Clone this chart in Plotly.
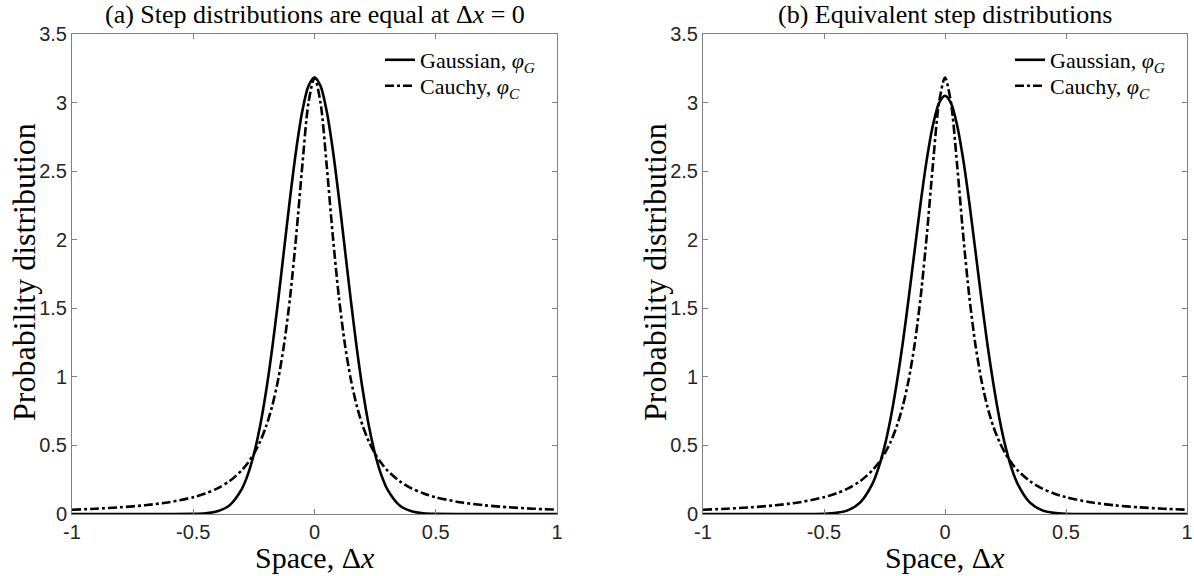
import plotly.graph_objects as go

# ---- data ----
x_vals = [-1.0, -0.9, -0.8, -0.7, -0.6, -0.5, -0.45, -0.4, -0.35,
          -0.3, -0.275, -0.25, -0.225, -0.2, -0.175, -0.15, -0.125, -0.1, -0.075, -0.05, -0.025,
          0.0,
          0.025, 0.05, 0.075, 0.1, 0.125, 0.15, 0.175, 0.2, 0.225, 0.25, 0.275, 0.3,
          0.35, 0.4, 0.45, 0.5, 0.6, 0.7, 0.8, 0.9, 1.0]

cauchy = [0.0315, 0.0388, 0.0490, 0.0637, 0.0860, 0.1224, 0.1498, 0.1872, 0.2402,
          0.3183, 0.3717, 0.4390, 0.5250, 0.6366, 0.7835, 0.9794, 1.2422, 1.5915, 2.0372, 2.5465, 2.9959,
          3.1831,
          2.9959, 2.5465, 2.0372, 1.5915, 1.2422, 0.9794, 0.7835, 0.6366, 0.5250, 0.4390, 0.3717, 0.3183,
          0.2402, 0.1872, 0.1498, 0.1224, 0.0860, 0.0637, 0.0490, 0.0388, 0.0315]

gauss_a = [0.0, 0.0, 0.0, 0.0, 0.00003, 0.0011, 0.0051, 0.0196, 0.0645,
           0.1814, 0.2867, 0.4354, 0.6354, 0.8911, 1.2009, 1.5552, 1.9358, 2.3153, 2.6613, 2.9396, 3.1204,
           3.1831,
           3.1204, 2.9396, 2.6613, 2.3153, 1.9358, 1.5552, 1.2009, 0.8911, 0.6354, 0.4354, 0.2867, 0.1814,
           0.0645, 0.0196, 0.0051, 0.0011, 0.00003, 0.0, 0.0, 0.0, 0.0]

gauss_b = [0.0, 0.0, 0.0, 0.0, 0.0001, 0.0020, 0.0082, 0.0284, 0.0850,
           0.2198, 0.3345, 0.4910, 0.6946, 0.9475, 1.2407, 1.5751, 1.9276, 2.2771, 2.5877, 2.8351, 2.9948,
           3.0500,
           2.9948, 2.8351, 2.5877, 2.2771, 1.9276, 1.5751, 1.2407, 0.9475, 0.6946, 0.4910, 0.3345, 0.2198,
           0.0850, 0.0284, 0.0082, 0.0020, 0.0001, 0.0, 0.0, 0.0, 0.0]

x_ticks = [-1, -0.5, 0, 0.5, 1]
x_tick_labels = ["-1", "-0.5", "0", "0.5", "1"]
y_ticks = [0, 0.5, 1, 1.5, 2, 2.5, 3, 3.5]
y_tick_labels = ["0", "0.5", "1", "1.5", "2", "2.5", "3", "3.5"]

titles = ["(a) Step distributions are equal at Δ<i>x</i> = 0",
          "(b) Equivalent step distributions"]
x_label = "Space, Δ<i>x</i>"
y_label = "Probability distribution"
name_g = "Gaussian, <i>φ<sub>G</sub></i>"
name_c = "Cauchy, <i>φ<sub>C</sub></i>"

# ---- figure ----
W, H = 1194, 576
SERIF = "Liberation Serif"
SANS = "Liberation Sans"
AX_COL = "#808080"
TXT_COL = "#262626"

# pixel geometry
ax_px = [(72, 557), (703, 1187)]
y_top, y_bot = 34, 514
row_g, row_c = 60, 86


def fx(px):
    return px / W


def fy(py):
    return 1 - py / H


fig = go.Figure()

panels = [
    dict(gauss=gauss_a, xa="x", ya="y", lg="legend", lc="legend2"),
    dict(gauss=gauss_b, xa="x2", ya="y2", lg="legend3", lc="legend4"),
]
for p in panels:
    fig.add_trace(go.Scatter(x=x_vals, y=p["gauss"], mode="lines", name=name_g,
                             line=dict(color="black", width=2.6, shape="spline", smoothing=0.8),
                             xaxis=p["xa"], yaxis=p["ya"], legend=p["lg"]))
    fig.add_trace(go.Scatter(x=x_vals, y=cauchy, mode="lines", name=name_c,
                             line=dict(color="black", width=2.6, dash="dashdot", shape="spline", smoothing=0.8),
                             xaxis=p["xa"], yaxis=p["ya"], legend=p["lc"]))

common_x = dict(range=[-1, 1], tickvals=x_ticks, ticktext=x_tick_labels,
                ticks="inside", ticklen=5, tickcolor=AX_COL, showline=True, linecolor=AX_COL,
                linewidth=1, mirror="ticks", showgrid=False, zeroline=False,
                ticklabeloverflow="allow",
                tickfont=dict(family=SANS, size=20, color=TXT_COL), automargin=False)
common_y = dict(range=[0, 3.5], tickvals=y_ticks, ticktext=y_tick_labels,
                ticks="inside", ticklen=5, tickcolor=AX_COL, showline=True, linecolor=AX_COL,
                linewidth=1, mirror="ticks", showgrid=False, zeroline=False,
                ticklabeloverflow="allow",
                tickfont=dict(family=SANS, size=20, color=TXT_COL), automargin=False)

legend_common = dict(xanchor="left", yanchor="middle", bgcolor="rgba(0,0,0,0)", borderwidth=0,
                     tracegroupgap=0, itemwidth=30,
                     font=dict(family=SERIF, size=22, color="black"))

lx = [ax_px[0][1] - 177, ax_px[1][1] - 177]

fig.update_layout(
    width=W, height=H,
    margin=dict(l=0, r=0, t=0, b=0),
    paper_bgcolor="white", plot_bgcolor="white",
    xaxis=dict(domain=[fx(ax_px[0][0]), fx(ax_px[0][1])], anchor="y", **common_x),
    yaxis=dict(domain=[fy(y_bot), fy(y_top)], anchor="x", **common_y),
    xaxis2=dict(domain=[fx(ax_px[1][0]), fx(ax_px[1][1])], anchor="y2", **common_x),
    yaxis2=dict(domain=[fy(y_bot), fy(y_top)], anchor="x2", **common_y),
    legend=dict(x=fx(lx[0]), y=fy(row_g), **legend_common),
    legend2=dict(x=fx(lx[0]), y=fy(row_c), **legend_common),
    legend3=dict(x=fx(lx[1]), y=fy(row_g), **legend_common),
    legend4=dict(x=fx(lx[1]), y=fy(row_c), **legend_common),
    showlegend=True,
)

annotations = []
for i, (l, r) in enumerate(ax_px):
    cx = fx((l + r) / 2)
    annotations.append(dict(text=titles[i], x=cx, y=fy(15), xref="paper", yref="paper",
                            showarrow=False, xanchor="center", yanchor="middle",
                            font=dict(family=SERIF, size=26, color="black")))
    annotations.append(dict(text=x_label, x=cx, y=fy(557), xref="paper", yref="paper",
                            showarrow=False, xanchor="center", yanchor="middle",
                            font=dict(family=SERIF, size=30, color="black")))
    annotations.append(dict(text=y_label, x=fx(l - 48), y=fy(272), xref="paper", yref="paper",
                            showarrow=False, xanchor="center", yanchor="middle", textangle=-90,
                            font=dict(family=SERIF, size=32, color="black")))
fig.update_layout(annotations=annotations)

fig.write_html("out.html",
               config={"displayModeBar": False},
               post_script="document.body.style.margin='0';document.body.style.padding='0';"
                           "document.body.style.overflow='hidden';")
